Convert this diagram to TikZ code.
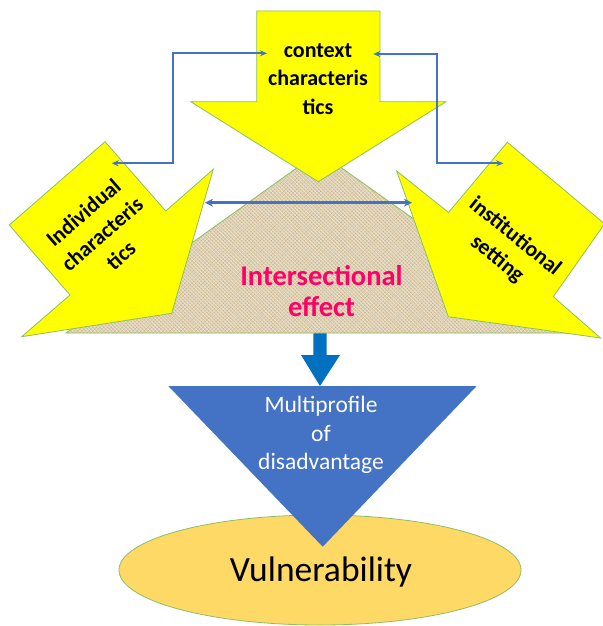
\documentclass[tikz,border=0pt]{standalone}
\usepackage{fontspec}
\setmainfont{Carlito}
\usetikzlibrary{arrows.meta,patterns.meta,shapes.geometric}
\definecolor{ylw}{HTML}{FFFF00}
\definecolor{edgegreen}{HTML}{8CC063}
\definecolor{conblue}{HTML}{4472C4}
\definecolor{darkblue}{HTML}{0070C0}
\definecolor{pinkred}{HTML}{FF0066}
\definecolor{gold}{HTML}{FFD966}
\definecolor{burlap}{HTML}{DDCFB1}
\definecolor{burlapdark}{HTML}{C4AF8A}
\definecolor{burlaplight}{HTML}{F1E9D8}
\tikzset{
  yarrow/.style={fill=ylw, draw=edgegreen, line width=0.8pt, line join=miter},
  conn/.style={draw=conblue, line width=1.8pt, {Stealth[length=7pt,width=6pt]}-{Stealth[length=7pt,width=6pt]}},
  bigconn/.style={draw=conblue, line width=2.6pt, {Stealth[length=8pt,width=8pt]}-{Stealth[length=8pt,width=8pt]}},
  boldlabel/.style={font=\bfseries\fontsize{22}{28.5}\selectfont, align=center, text=black, inner sep=0pt},
}
\begin{document}
\begin{tikzpicture}[x=1pt,y=-1pt]
\useasboundingbox (0,0) rectangle (602,626);
\fill[white] (0,0) rectangle (602,626);

% ellipse
\node[ellipse, fill=gold, draw=edgegreen, line width=0.8pt, minimum width=402pt, minimum height=110pt, inner sep=0pt] (vuln) at (320,570) {};

% inverted triangle
\fill[conblue] (168.3,386) -- (476.7,386) -- (322.7,546.7) -- cycle;

% thick blue arrow
\fill[darkblue] (313.3,330) -- (326.7,330) -- (326.7,355) -- (340,355) -- (320,386) -- (301,355) -- (313.3,355) -- cycle;

% burlap triangle
\fill[burlap] (319,152) -- (575,333) -- (66,333) -- cycle;
\fill[pattern={Lines[angle=45,distance=2.6pt,line width=0.4pt]}, pattern color=burlapdark] (319,152) -- (575,333) -- (66,333) -- cycle;
\fill[pattern={Lines[angle=-45,distance=2.6pt,line width=0.5pt]}, pattern color=burlaplight] (319,152) -- (575,333) -- (66,333) -- cycle;
\draw[edgegreen, line width=0.8pt] (319,152) -- (575,333) -- (66,333) -- cycle;

% top arrow
\draw[yarrow] (256.7,11) -- (380,11) -- (380,101.7) -- (446,101.7) -- (318.3,181.7) -- (190.7,101.7) -- (256.7,101.7) -- cycle;

% left arrow
\draw[yarrow] (105,141.7) -- (165.7,211) -- (213.3,169.3) -- (171.7,313.3) -- (21.7,336.7) -- (70,295) -- (9.3,225) -- cycle;

% right arrow
\draw[yarrow] (507.3,142.3) -- (448.5,212.5) -- (396.7,171) -- (448.3,316.7) -- (600.5,338) -- (553.3,296.7) -- (604.6,223.8) -- cycle;

% connector endpoints
\coordinate (ctxL) at (267,53.3);
\coordinate (indT) at (111.7,163.3);
\coordinate (ctxR) at (373.3,54);
\coordinate (insT) at (503.3,163.3);
\coordinate (indR) at (205,202.7);
\coordinate (insL) at (412,202.7);

\draw[conn] (indT) -| (173.3,53.3) -- (ctxL);
\draw[conn] (insT) -| (437.3,54) -- (ctxR);
\draw[bigconn] (indR) -- (insL);

% texts
\node[boldlabel] (ctx) at (318,79) {context\\characteris\\tics};
\node[boldlabel, rotate=41] (ind) at (102,234) {Individual\\characteris\\tics};
\node[boldlabel, rotate=-39] (ins) at (506,248) {institutional\\setting};
\node[font=\bfseries\fontsize{28.5}{31.6}\selectfont, align=center, text=pinkred, inner sep=0pt] (inter) at (321.5,291) {Intersectional\\effect};
\node[font=\fontsize{23.5}{28.5}\selectfont, align=center, text=white, inner sep=0pt] (multi) at (321,435) {Multiprofile\\of\\disadvantage};
\node[font=\fontsize{35.5}{40}\selectfont, text=black, inner sep=0pt, anchor=base] (vtext) at (321,581.7) {Vulnerability};
\end{tikzpicture}
\end{document}
